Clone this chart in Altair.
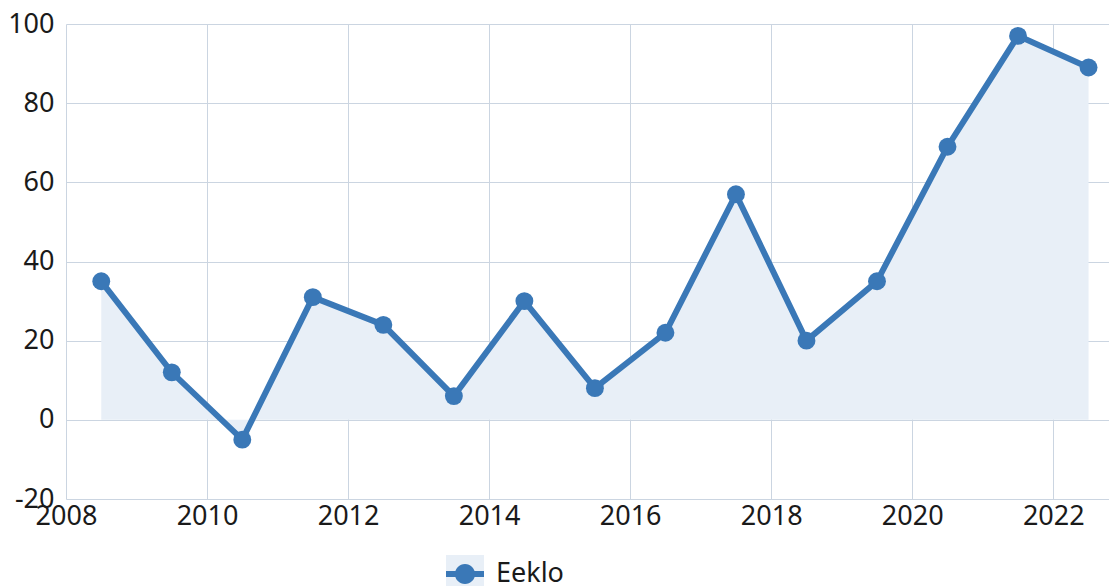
import altair as alt
import pandas as pd

years = [2008.5, 2009.5, 2010.5, 2011.5, 2012.5, 2013.5, 2014.5, 2015.5,
         2016.5, 2017.5, 2018.5, 2019.5, 2020.5, 2021.5, 2022.5]
values = [35, 12, -5, 31, 24, 6, 30, 8, 22, 57, 20, 35, 69, 97, 89]
series_name = "Eeklo"
x_ticks = [2008, 2010, 2012, 2014, 2016, 2018, 2020, 2022]
y_ticks = [-20, 0, 20, 40, 60, 80, 100]

df = pd.DataFrame({"year": years, "value": values, "series": [series_name] * len(years)})

LINE = "#3a78b7"
FILL = "#e8eff7"
GRID = "#cbd5e1"
FONT = "Noto Sans"
FS = 27

x = alt.X("year:Q",
          scale=alt.Scale(domain=[2008, 2022.79], nice=False, zero=False),
          axis=alt.Axis(values=x_ticks, format="d", title=None, labelFontSize=FS,
                        labelFont=FONT, labelColor="#1a1a1a", ticks=False, domain=False,
                        gridColor=GRID, gridWidth=1, labelPadding=4, labelFlush=False))
y = alt.Y("value:Q",
          scale=alt.Scale(domain=[-20, 100], nice=False),
          axis=alt.Axis(values=y_ticks, title=None, labelFontSize=FS, labelFont=FONT,
                        labelExpr="'' + datum.value",
                        labelColor="#1a1a1a", ticks=False, domain=False, gridColor=GRID,
                        gridWidth=1, labelPadding=12, labelFlush=False))

sym_path = "M-1,-0.16H1V0.16H-1Z M0.53,0A0.53,0.53 0 1,1 -0.53,0A0.53,0.53 0 1,1 0.53,0Z"

area = alt.Chart(df).mark_area(opacity=1).encode(
    x=x, y=y, y2=alt.datum(0),
    fill=alt.Fill("series:N", scale=alt.Scale(range=[FILL]),
                  legend=alt.Legend(title=None, orient="none", legendX=380, legendY=531,
                                    symbolType="square", symbolSize=1444,
                                    symbolStrokeWidth=0, labelOpacity=0,
                                    labelFontSize=FS, labelFont=FONT, labelOffset=12))
)

line = alt.Chart(df).mark_line(
    strokeWidth=6,
    point=alt.OverlayMarkDef(size=320, filled=True, opacity=1, color=LINE),
).encode(
    x=x, y=y,
    color=alt.Color("series:N", scale=alt.Scale(range=[LINE]),
                    legend=alt.Legend(title=None, orient="none", legendX=380, legendY=531,
                                      symbolType=sym_path, symbolSize=1444,
                                      symbolFillColor=LINE, symbolStrokeWidth=0,
                                      labelFontSize=FS, labelFont=FONT,
                                      labelColor="#1a1a1a", labelOffset=12))
)

chart = alt.layer(area, line).properties(
    width=1043, height=475,
    autosize=alt.AutoSizeParams(type="none"),
    padding={"left": 58, "top": 16, "right": 0, "bottom": 87},
).configure_view(stroke=None)

chart.save("out.html", embed_options={"renderer": "svg", "actions": False})
